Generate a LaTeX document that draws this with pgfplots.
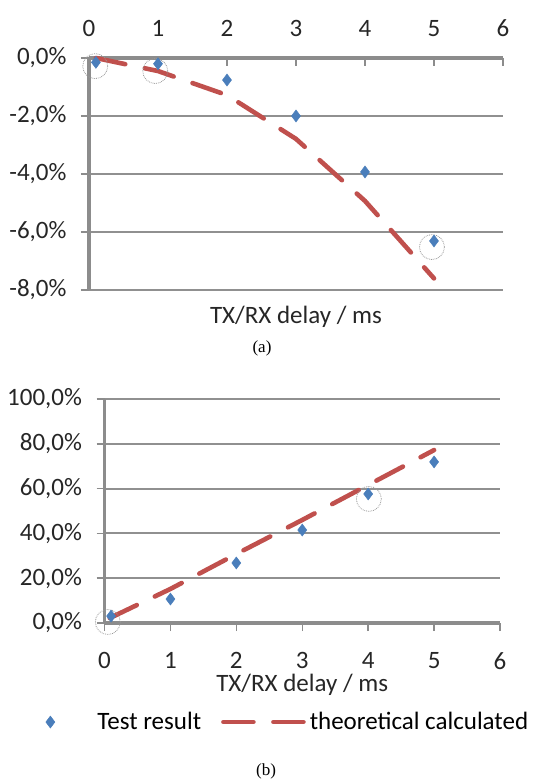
\documentclass[border=0pt]{standalone}
\usepackage{pgfplots}
\pgfplotsset{compat=1.18}
\usepackage{fontspec}
\setmainfont{Carlito}
\newfontfamily\capfont{Liberation Serif}
\definecolor{axgray}{HTML}{8C8C8C}
\definecolor{gridgray}{HTML}{909090}
\definecolor{mblue}{HTML}{4A7EBB}
\definecolor{lred}{HTML}{C0504D}
\begin{document}
\begin{tikzpicture}
\useasboundingbox (0pt,0pt) rectangle (556pt,781pt);
\pgfplotsset{
 common/.style={
  scale only axis,
  font=\fontsize{25}{29}\selectfont,
  tick label style={font=\fontsize{25}{29}\selectfont, text=black!85},
  label style={font=\fontsize{25}{29}\selectfont, text=black!85},
  xmin=0,xmax=6, xtick={0,1,2,3,4,5,6}, xticklabels={0,1,2,3,4,5,6},
  axis line style={axgray, line width=3.8pt},
  ymajorgrids, major grid style={gridgray, line width=2pt},
  every tick/.style={axgray, line width=1.5pt},
  major tick length=8pt,
  yticklabel style={xshift=-11pt},
  clip=false,
 },
 testplot/.style={only marks, mark=diamond*, mark size=6pt, mark options={fill=mblue, draw=mblue, line width=0.5pt}},
 theoplot/.style={lred, line width=4.6pt, line cap=round, dash pattern=on 30pt off 20pt, no marks},
 circplot/.style={only marks, mark=o, mark size=12.5pt, mark options={draw=gray!80, densely dotted, line width=0.8pt}, forget plot},
 testleg/.style={legend image code/.code={\path[draw=none,fill=none] (0pt,0pt) -- (50pt,0pt); \draw[##1] plot[only marks] coordinates {(5pt,0pt)};}},
 theoleg/.style={legend image code/.code={\draw[##1] (0pt,0pt) -- (82pt,0pt);}},
}
% ---------- (a) ----------
\begin{axis}[common, at={(89pt,491pt)}, anchor=south west, width=414pt, height=232pt,
  ymin=-8, ymax=0, ytick={-8,-6,-4,-2,0},
  yticklabels={{-8,0\%},{-6,0\%},{-4,0\%},{-2,0\%},{0,0\%}},
  axis x line*=top, axis y line*=left,
  xtick align=inside, ytick align=outside,
  xticklabel style={yshift=18pt},
  xlabel={TX/RX delay / ms},
  xlabel style={at={(axis description cs:0.5,0)}, anchor=center, yshift=-27pt},
]
\addplot[circplot] coordinates {(0.09,-0.28) (0.96,-0.45) (4.97,-6.52)};
\addplot[theoplot] coordinates {(0.1,0) (1,-0.45) (2,-1.28) (3,-2.79) (4,-4.93) (5,-7.6)};
\addplot[testplot] coordinates {(0.1,-0.15) (1,-0.2) (2,-0.76) (3,-2.0) (4,-3.93) (5,-6.31)};
\end{axis}
\node[font=\capfont\fontsize{17}{20}\selectfont] at (262pt,433pt) {(a)};
% ---------- (b) ----------
\begin{axis}[common, at={(104.5pt,158pt)}, anchor=south west, width=395.5pt, height=224pt,
  ymin=0, ymax=100, ytick={0,20,40,60,80,100},
  yticklabels={{0,0\%},{20,0\%},{40,0\%},{60,0\%},{80,0\%},{100,0\%}},
  axis x line*=bottom, axis y line*=left,
  tick align=outside,
  xticklabel style={yshift=-18pt},
  xlabel={TX/RX delay / ms},
  xlabel style={at={(axis description cs:0.5,0)}, anchor=center, yshift=-62pt},
  legend columns=2,
  legend style={at={(axis description cs:-0.150,-0.442)}, anchor=west, draw=none, fill=none,
    inner sep=0pt, font=\fontsize{25}{29}\selectfont,
    /tikz/every even column/.append style={column sep=18pt}},
  legend cell align=left,
]
\addplot[circplot] coordinates {(0.05,0.45) (4.01,55.4)};
\addplot[testplot, testleg]
  coordinates {(0.1,3.1) (1,10.7) (2,26.8) (3,41.5) (4,57.6) (5,71.9)};
\addlegendentry{Test result}
\addplot[theoplot, theoleg]
  coordinates {(0.08,2.2) (1,15.2) (2,30.8) (3,46.0) (4,61.6) (5,77.2)};
\addlegendentry{theoretical calculated}
\end{axis}
\node[font=\capfont\fontsize{17}{20}\selectfont] at (266pt,10pt) {(b)};
\end{tikzpicture}
\end{document}
